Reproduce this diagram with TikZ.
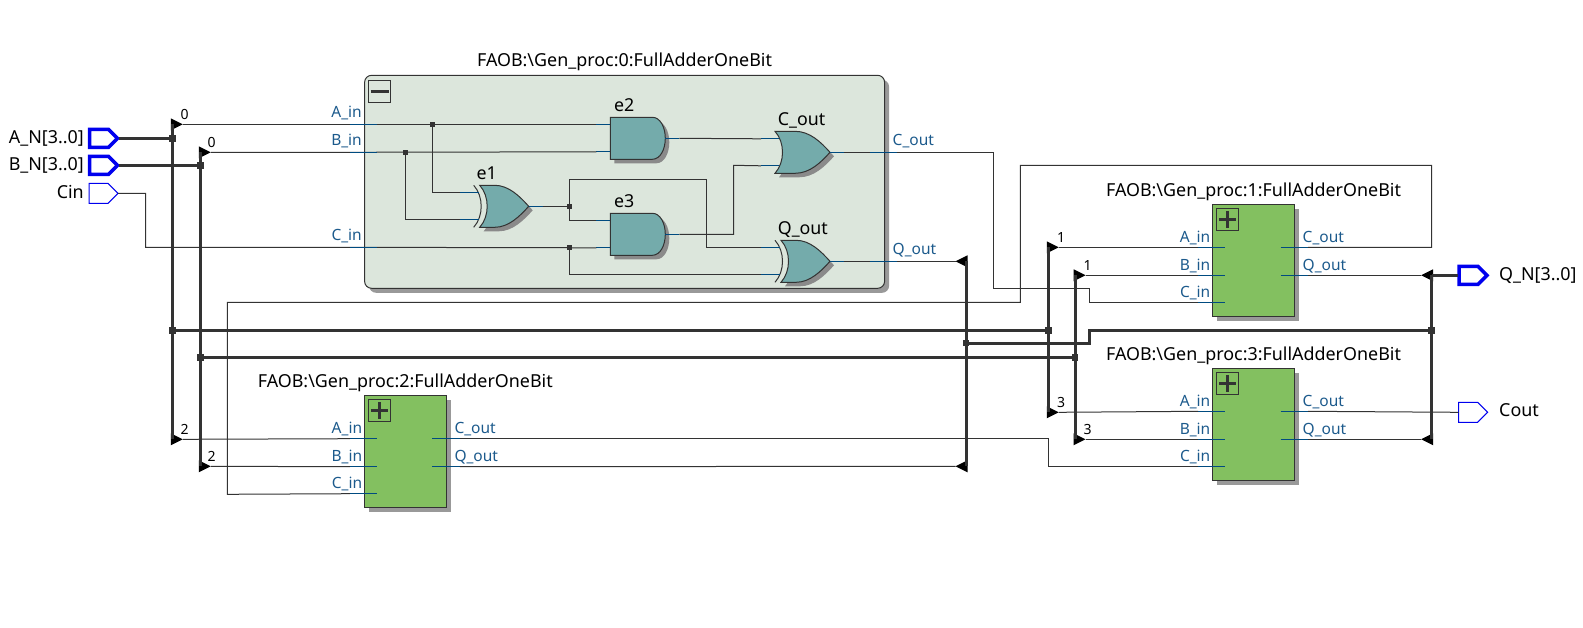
\documentclass[tikz,border=0pt]{standalone}
\usepackage{fontspec}
\setmainfont{Noto Sans}
\usepackage{tikz}
\usetikzlibrary{positioning, arrows.meta, calc, shadows}
\usepackage{xcolor}
\definecolor{wirecol}{HTML}{333333}
\definecolor{portcol}{HTML}{004B80}
\definecolor{porttext}{HTML}{1C5A8C}
\definecolor{pincol}{HTML}{0000EE}
\definecolor{blockcol}{HTML}{83C060}
\definecolor{opencol}{HTML}{DCE6DC}
\definecolor{gatecol}{HTML}{74ABAB}
\definecolor{shadecol}{HTML}{999999}
\tikzset{
    wire/.style={draw=wirecol, line width=1pt},
    bus/.style={draw=wirecol, line width=3pt},
    port/.style={draw=portcol, line width=1pt},
    junc/.style={rectangle, fill=wirecol, inner sep=0pt, minimum size=6.5pt},
    jsmall/.style={rectangle, fill=wirecol, inner sep=0pt, minimum size=4.5pt},
    faobbox/.style={rectangle, draw=wirecol, line width=1pt, fill=blockcol, anchor=north west, outer sep=0pt,
        minimum width=82.3pt, minimum height=112pt,
        drop shadow={shadow xshift=4.5pt, shadow yshift=-4.5pt, fill=shadecol, opacity=1}},
    togglebox/.style={rectangle, draw=wirecol, line width=1pt, anchor=north west, minimum size=22pt, outer sep=0pt},
    title/.style={font=\fontsize{17.9}{20}\selectfont, text=black, inner sep=0pt},
    portleft/.style={font=\fontsize{15.5}{18}\selectfont, text=porttext, anchor=base east, inner sep=0pt},
    portright/.style={font=\fontsize{15.5}{18}\selectfont, text=porttext, anchor=base west, inner sep=0pt},
    pinlabel/.style={font=\fontsize{17.9}{20}\selectfont, text=black, inner sep=0pt},
    bitlabel/.style={font=\fontsize{14}{16}\selectfont, text=black, anchor=base west, inner sep=0pt},
    gatelabel/.style={font=\fontsize{17.8}{20}\selectfont, text=black, anchor=base west, inner sep=0pt},
    % input or output pin
    pics/pinbus/.style={code={
        \draw[draw=pincol, line width=3.5pt, fill=white, miter limit=2] (1,-9) -- (20,-9) -- (29,0) -- (20,9) -- (1,9) -- cycle;
        \coordinate (-in) at (0,0);
        \coordinate (-out) at (30,0);
    }},
    pics/pinbit/.style={code={
        \draw[draw=pincol, line width=1pt, fill=white] (0,-10) -- (19,-10) -- (29,0) -- (19,10) -- (0,10) -- cycle;
        \coordinate (-in) at (0,0);
        \coordinate (-out) at (29,0);
    }},
    % bus tap triangles
    pics/tapright/.style={code={
        \fill[black] (-1.5,-6) -- (10.5,0) -- (-1.5,6) -- cycle;
        \coordinate (-bus) at (0,0);
        \coordinate (-tip) at (10.5,0);
    }},
    pics/tapleft/.style={code={
        \fill[black] (1.5,-6) -- (-10.5,0) -- (1.5,6) -- cycle;
        \coordinate (-bus) at (0,0);
        \coordinate (-tip) at (-10.5,0);
    }},
    % gates, measured from the left end at mid height
    pics/andgate/.style={code={
        \fill[shadecol!90!black, shift={(4,4)}] (0,-21) -- (42,-21) .. controls (50,-21) and (55,-11) .. (55,0) .. controls (55,11) and (50,21) .. (42,21) -- (0,21) -- cycle;
        \draw[wire, fill=gatecol] (0,-21) -- (42,-21) .. controls (50,-21) and (55,-11) .. (55,0) .. controls (55,11) and (50,21) .. (42,21) -- (0,21) -- cycle;
        \draw[port] (-14,-14) -- (0,-14);
        \draw[port] (-14,13.5) -- (0,13.5);
        \draw[port] (55,0) -- (69,0);
        \coordinate (-a) at (-14,-14);
        \coordinate (-b) at (-14,13.5);
        \coordinate (-o) at (69,0);
    }},
    pics/orgate/.style={code={
        \fill[shadecol!90!black, shift={(4,4)}] (0,-21) -- (20,-21) .. controls (35,-21) and (46,-10) .. (55,0) .. controls (46,10) and (35,21) .. (20,21) -- (0,21) .. controls (10,10) and (10,-10) .. (0,-21) -- cycle;
        \draw[wire, fill=gatecol] (0,-21) -- (20,-21) .. controls (35,-21) and (46,-10) .. (55,0) .. controls (46,10) and (35,21) .. (20,21) -- (0,21) .. controls (10,10) and (10,-10) .. (0,-21) -- cycle;
        \draw[port] (-14,-13.5) -- (4,-13.5);
        \draw[port] (-14,13.5) -- (4,13.5);
        \draw[port] (55,0) -- (69,0);
        \coordinate (-a) at (-14,-13.5);
        \coordinate (-b) at (-14,13.5);
        \coordinate (-o) at (69,0);
    }},
    pics/xorgate/.style={code={
        \fill[shadecol!90!black, shift={(4,4)}] (6,-21) -- (21,-21) .. controls (35,-21) and (46,-10) .. (55,0) .. controls (46,10) and (35,21) .. (21,21) -- (6,21) .. controls (16,10) and (16,-10) .. (6,-21) -- cycle;
        \draw[wire, fill=gatecol] (6,-21) -- (21,-21) .. controls (35,-21) and (46,-10) .. (55,0) .. controls (46,10) and (35,21) .. (21,21) -- (6,21) .. controls (16,10) and (16,-10) .. (6,-21) -- cycle;
        \draw[wire] (0,-21) .. controls (10,-10) and (10,10) .. (0,21);
        \draw[port] (-14,-13.5) -- (5,-13.5);
        \draw[port] (-14,13.5) -- (5,13.5);
        \draw[port] (55,0) -- (69,0);
        \coordinate (-a) at (-14,-13.5);
        \coordinate (-b) at (-14,13.5);
        \coordinate (-o) at (69,0);
    }},
    % collapsed adder block, measured from its top left corner
    pics/faob/.style={code={
        \node[faobbox] (-box) at (0,0) {};
        \node[togglebox] (-tog) at (4,4) {};
        \draw[wirecol, line width=3pt] (6.5,15) -- (23.5,15);
        \draw[wirecol, line width=3pt] (15,6.5) -- (15,23.5);
        \node[title] (-name) at (41,-12.5) {FAOB:\textbackslash Gen\_proc:#1:FullAdderOneBit};
        \draw[port] (-14.5,43) -- (12.5,43);
        \draw[port] (-14.5,71) -- (12.5,71);
        \draw[port] (-14.5,98) -- (12.5,98);
        \draw[port] (68,43) -- (95.5,43);
        \draw[port] (68,71) -- (95.5,71);
        \node[portleft] (-la) at (-2,38) {A\_in};
        \node[portleft] (-lb) at (-2,66) {B\_in};
        \node[portleft] (-lc) at (-2,93) {C\_in};
        \node[portright] (-lco) at (90,38) {C\_out};
        \node[portright] (-lq) at (90,66) {Q\_out};
        \coordinate (-a) at (-14.5,43);
        \coordinate (-b) at (-14.5,71);
        \coordinate (-c) at (-14.5,98);
        \coordinate (-co) at (95.5,43);
        \coordinate (-q) at (95.5,71);
    }}
}
\begin{document}
\begin{tikzpicture}[x=1pt, y=-1pt]
  \useasboundingbox (0,0) rectangle (1583,627);

  % opened block
  \node[rectangle, draw=wirecol, line width=1pt, fill=opencol, anchor=north west, outer sep=0pt,
        minimum width=520pt, minimum height=213pt, rounded corners=7pt,
        drop shadow={shadow xshift=4.5pt, shadow yshift=-4.5pt, fill=shadecol, opacity=1}] (b0box) at (364.6,75.3) {};
  \node[togglebox] (b0tog) at (368.5,80.5) {};
  \draw[wirecol, line width=3pt] (370.5,91.5) -- (388.5,91.5);
  \node[title] (b0name) at (624.5,62) {FAOB:\textbackslash Gen\_proc:0:FullAdderOneBit};
  \node[portleft] (b0la) at (362,117.5) {A\_in};
  \node[portleft] (b0lb) at (362,145.5) {B\_in};
  \node[portleft] (b0lc) at (362,240.5) {C\_in};
  \node[portright] (b0lco) at (892.5,145.5) {C\_out};
  \node[portright] (b0lq) at (892.5,254.5) {Q\_out};
  \coordinate (b0a) at (350,124.3);
  \coordinate (b0b) at (350,152.3);
  \coordinate (b0c) at (350,247.3);
  \coordinate (b0co) at (870,152.3);
  \coordinate (b0q) at (870,261.3);

  % gates
  \pic (e1) at (473.7,206.3) {xorgate};
  \pic (e2) at (610.3,138.3) {andgate};
  \pic (e3) at (610.3,234.3) {andgate};
  \pic (cout) at (775,152.3) {orgate};
  \pic (qout) at (775,261.3) {xorgate};
  \node[gatelabel] (le1) at (476.4,179.5) {e1};
  \node[gatelabel] (le2) at (613.8,111.5) {e2};
  \node[gatelabel] (le3) at (613.8,207.5) {e3};
  \node[gatelabel] (lcout) at (777.7,125.5) {C\_out};
  \node[gatelabel] (lqout) at (777.7,234) {Q\_out};

  % other blocks
  \pic (b1) at (1212.5,204.3) {faob={1}};
  \pic (b2) at (364.3,395.7) {faob={2}};
  \pic (b3) at (1212.5,368.3) {faob={3}};

  % pins
  \pic (pa) at (88.5,138.3) {pinbus};
  \pic (pb) at (88.5,165.3) {pinbus};
  \pic (pc) at (89,193.3) {pinbit};
  \pic (pq) at (1458,275.3) {pinbus};
  \pic (pco) at (1458.6,412.3) {pinbit};
  \node[pinlabel, anchor=base east] (la) at (84,143) {A\_N[3..0]};
  \node[pinlabel, anchor=base east] (lb) at (84,170) {B\_N[3..0]};
  \node[pinlabel, anchor=base east] (lc) at (84,198) {Cin};
  \node[pinlabel, anchor=base west] (lq) at (1499,280) {Q\_N[3..0]};
  \node[pinlabel, anchor=base west] (lco) at (1499,416.5) {Cout};

  % bus taps
  \pic (ta0) at (172.3,124.3) {tapright};
  \pic (tb0) at (200.3,152.3) {tapright};
  \pic (ta2) at (172.3,439.3) {tapright};
  \pic (tb2) at (200.3,466.3) {tapright};
  \pic (ta1) at (1048.3,247.3) {tapright};
  \pic (tb1) at (1075.1,275.3) {tapright};
  \pic (ta3) at (1048.3,412.3) {tapright};
  \pic (tb3) at (1075.1,439.3) {tapright};
  \pic (tq0) at (966,261.3) {tapleft};
  \pic (tq2) at (966,466.3) {tapleft};
  \pic (tq1) at (1431.6,275.3) {tapleft};
  \pic (tq3) at (1431.6,439.3) {tapleft};
  \node[bitlabel] (n0a) at (180.5,119.5) {0};
  \node[bitlabel] (n0b) at (207.5,147.5) {0};
  \node[bitlabel] (n2a) at (180.5,434.5) {2};
  \node[bitlabel] (n2b) at (207.5,461.5) {2};
  \node[bitlabel] (n1a) at (1057,242.5) {1};
  \node[bitlabel] (n1b) at (1083.5,270.5) {1};
  \node[bitlabel] (n3a) at (1057,407.5) {3};
  \node[bitlabel] (n3b) at (1083.5,434.5) {3};

  % junctions
  \node[junc] (ja) at (172.3,138.3) {};
  \node[junc] (jb) at (200.3,165.3) {};
  \node[junc] (ja2) at (172.3,330.3) {};
  \node[junc] (jb2) at (200.3,357.3) {};
  \node[junc] (ja3) at (1048.3,330.3) {};
  \node[junc] (jb3) at (1075.1,357.3) {};
  \node[junc] (jq) at (966,343) {};
  \node[junc] (jq2) at (1431.6,330.3) {};
  \node[jsmall] (ji1) at (432.3,124.3) {};
  \node[jsmall] (ji2) at (405.5,152.3) {};
  \node[jsmall] (ji3) at (569.4,206.3) {};
  \node[jsmall] (ji4) at (569.4,247.3) {};

  % corners of the wires
  \coordinate (w1) at (145.5,193.3);
  \coordinate (w2) at (706.4,179.3);
  \coordinate (w3) at (733.6,165.3);
  \coordinate (w4) at (993.6,288.3);
  \coordinate (w5) at (1089.3,302.3);
  \coordinate (w6) at (1431.6,165.3);
  \coordinate (w7) at (1020.4,302.3);
  \coordinate (w8) at (227.3,494.3);
  \coordinate (w9) at (1048.3,466.3);
  \coordinate (w10) at (1089.3,330.3);

  % busses
  \draw[bus] (pa-out) -- (ja);
  \draw[bus] (pb-out) -- (jb);
  \draw[bus] (ta0-bus) -- (ta2-bus);
  \draw[bus] (tb0-bus) -- (tb2-bus);
  \draw[bus] (ja2) -- (ja3);
  \draw[bus] (jb2) -- (jb3);
  \draw[bus] (ta1-bus) -- (ta3-bus);
  \draw[bus] (tb1-bus) -- (tb3-bus);
  \draw[bus] (tq0-bus) -- (tq2-bus);
  \draw[bus] (tq1-bus) -- (tq3-bus);
  \draw[bus] (tq1-bus) -- (pq-in);
  \draw[bus] (jq) -| (w10) -- (jq2);

  % wires in the opened block
  \draw[wire] (ta0-tip) -- (b0a) -- (e2-a);
  \draw[wire] (tb0-tip) -- (b0b) -- (e2-b);
  \draw[wire] (pc-out) -- (w1) |- (b0c) -- (e3-b);
  \draw[wire] (ji1) |- (e1-a);
  \draw[wire] (ji2) |- (e1-b);
  \draw[wire] (e1-o) -- (ji3);
  \draw[wire] (ji3) |- (e3-a);
  \draw[wire] (ji3) |- (w2) |- (qout-a);
  \draw[wire] (ji4) |- (qout-b);
  \draw[wire] (e2-o) -- (cout-a);
  \draw[wire] (e3-o) -| (w3) -- (cout-b);
  \draw[wire] (cout-o) -- (b0co);
  \draw[wire] (qout-o) -- (b0q);

  % wires between the blocks
  \draw[wire] (b0co) -| (w4) -| (w5) -- (b1-c);
  \draw[wire] (b0q) -- (tq0-tip);
  \draw[wire] (ta1-tip) -- (b1-a);
  \draw[wire] (tb1-tip) -- (b1-b);
  \draw[wire] (ta3-tip) -- (b3-a);
  \draw[wire] (tb3-tip) -- (b3-b);
  \draw[wire] (ta2-tip) -- (b2-a);
  \draw[wire] (tb2-tip) -- (b2-b);
  \draw[wire] (b1-co) -| (w6) -| (w7) -| (w8) -- (b2-c);
  \draw[wire] (b1-q) -- (tq1-tip);
  \draw[wire] (b2-co) -| (w9) -- (b3-c);
  \draw[wire] (b2-q) -- (tq2-tip);
  \draw[wire] (b3-co) -- (pco-in);
  \draw[wire] (b3-q) -- (tq3-tip);

  % port stubs of the opened block
  \foreach \py in {124.3,152.3,247.3} {
    \draw[port] (350,\py) -- (377,\py);
  }
  \foreach \py in {152.3,261.3} {
    \draw[port] (870,\py) -- (897,\py);
  }
\end{tikzpicture}
\end{document}
